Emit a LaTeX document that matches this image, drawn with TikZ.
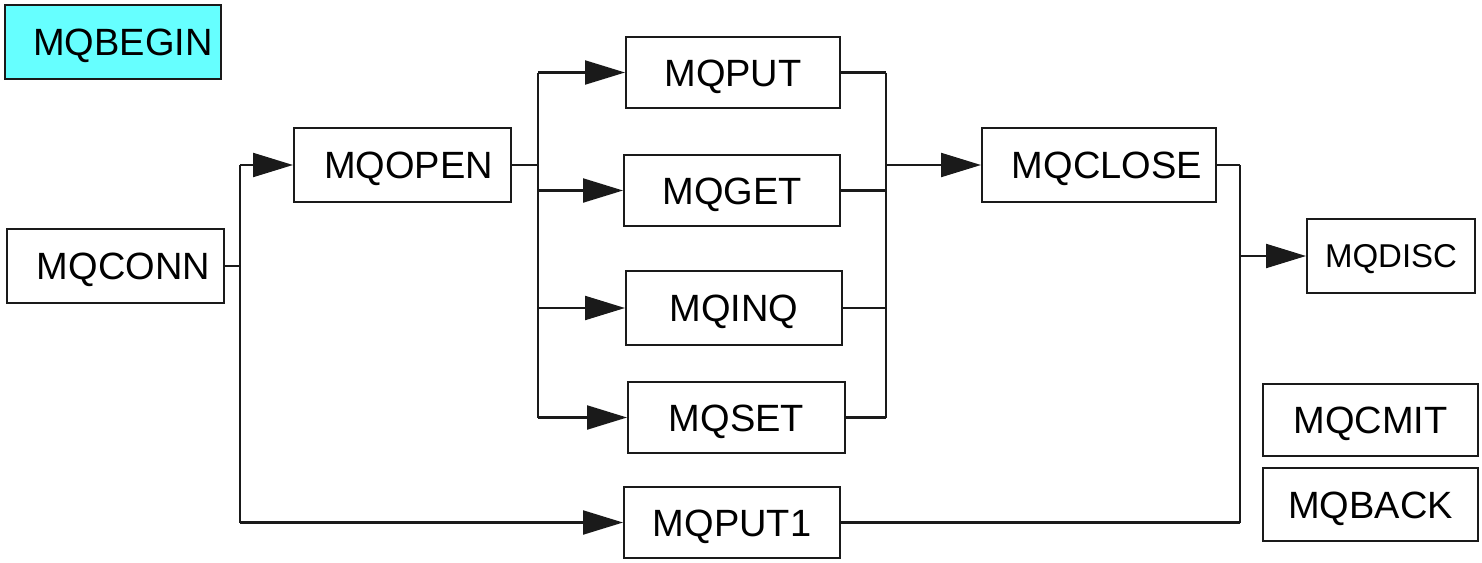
\documentclass[tikz,border=0pt]{standalone}
\usepackage{fontspec}
\setmainfont{Liberation Sans}
\usetikzlibrary{arrows.meta}
\definecolor{boxcyan}{HTML}{66FFFF}
\definecolor{ln}{HTML}{1A1A1A}
\tikzset{
  box/.style={draw=ln, line width=1pt, inner sep=0pt, text height=13.6pt, text depth=0pt, font=\fontsize{19pt}{22pt}\selectfont, text=black},
  wire/.style={draw=ln, line width=1.1pt},
  arr/.style={wire, -{Triangle[length=20pt,width=12pt]}},
}
\begin{document}
\begin{tikzpicture}[x=0.5pt,y=-0.5pt]
\useasboundingbox (0,0) rectangle (1482,562);
\node[box, fill=boxcyan, minimum width=108pt, minimum height=37pt] (begin) at (113,42) {\hspace*{10pt}MQBEGIN};
\node[box, minimum width=108.5pt, minimum height=37pt] (conn) at (115.5,266) {\hspace*{8pt}MQCONN};
\node[box, minimum width=108.5pt, minimum height=37pt] (open) at (402.5,165) {\hspace*{6pt}MQOPEN};
\node[box, minimum width=107pt, minimum height=35.5pt] (put) at (733,72.5) {MQPUT};
\node[box, minimum width=108pt, minimum height=35.5pt] (get) at (732,190.5) {MQGET};
\node[box, minimum width=108pt, minimum height=37pt] (inq) at (734,308) {MQINQ};
\node[box, minimum width=108.5pt, minimum height=35.5pt] (set) at (736.5,417.5) {MQSET};
\node[box, minimum width=108pt, minimum height=35.5pt] (put1) at (732,522.5) {MQPUT1};
\node[box, minimum width=117pt, minimum height=37pt] (close) at (1099,165) {\hspace*{8pt}MQCLOSE};
\node[box, minimum width=84pt, minimum height=37pt, text height=11.8pt, font=\fontsize{16.5pt}{20pt}\selectfont] (disc) at (1391,256) {MQDISC};
\node[box, minimum width=107.5pt, minimum height=36pt] (cmit) at (1370.5,420) {MQCMIT};
\node[box, minimum width=107.5pt, minimum height=36.5pt] (back) at (1370.5,504.5) {MQBACK};
% junctions
\coordinate (j1) at (240,262);
\coordinate (j2) at (538,165);
\coordinate (j3) at (886,165);
\coordinate (j4) at (1240,170);
% MQCONN fan-out
\draw[wire] (conn.east) -- (j1 |- conn.east);
\draw[wire] (j1 |- open.west) -- (j1 |- put1.west);
\draw[arr] (j1 |- open.west) -- (open.west);
\draw[arr] (j1 |- put1.west) -- (put1.west);
% MQOPEN fan-out
\draw[wire] (open.east) -- (j2 |- open.east);
\draw[wire] (j2 |- put.west) -- (j2 |- set.west);
\draw[arr] (j2 |- put.west) -- (put.west);
\draw[arr] (j2 |- get.west) -- (get.west);
\draw[arr] (j2 |- inq.west) -- (inq.west);
\draw[arr] (j2 |- set.west) -- (set.west);
% fan-in to MQCLOSE
\draw[wire] (put.east) -- (j3 |- put.east);
\draw[wire] (get.east) -- (j3 |- get.east);
\draw[wire] (inq.east) -- (j3 |- inq.east);
\draw[wire] (set.east) -- (j3 |- set.east);
\draw[wire] (j3 |- put.east) -- (j3 |- set.east);
\draw[arr] (j3 |- close.west) -- (close.west);
% fan-in to MQDISC
\draw[wire] (close.east) -- (j4 |- close.east);
\draw[wire] (put1.east) -- (j4 |- put1.east);
\draw[wire] (j4 |- close.east) -- (j4 |- put1.east);
\draw[arr] (j4 |- disc.west) -- (disc.west);
\end{tikzpicture}
\end{document}
